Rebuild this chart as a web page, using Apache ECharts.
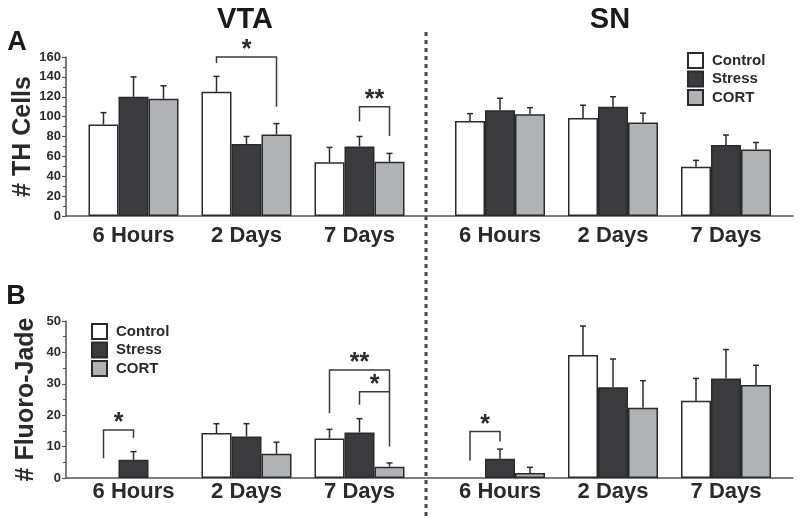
<!DOCTYPE html>
<html>
<head>
<meta charset="utf-8">
<script src="https://cdn.jsdelivr.net/npm/echarts@6/dist/echarts.min.js"></script>
<style>
  html, body { margin: 0; padding: 0; background: #fff; }
  #chart { width: 800px; height: 518px; }
</style>
</head>
<body>
<div id="chart"></div>
<script>
var categories = ['6 Hours', '2 Days', '7 Days'];
var groupNames = ['Control', 'Stress', 'CORT'];

// A: # TH cells (mean, error)
var thVtaControl = [92, 125, 54],     thVtaControlErr = [12, 15.5, 15];
var thVtaStress  = [120, 72.5, 70],   thVtaStressErr  = [20, 7.5, 10];
var thVtaCort    = [118, 82, 54.5],   thVtaCortErr    = [13, 11, 8.5];
var thSnControl  = [95.5, 98.5, 49.5], thSnControlErr = [7.5, 13, 6.5];
var thSnStress   = [106.5, 110, 71.5], thSnStressErr  = [12, 10, 10];
var thSnCort     = [102.5, 94, 67],   thSnCortErr     = [6.5, 9.5, 7];

// B: # Fluoro-Jade (mean, error), null = no bar
var fjVtaControl = [null, 14.3, 12.6], fjVtaControlErr = [0, 3, 2.9];
var fjVtaStress  = [5.8, 13.2, 14.5],  fjVtaStressErr  = [2.6, 4.1, 4.4];
var fjVtaCort    = [null, 7.7, 3.6],   fjVtaCortErr    = [0, 3.7, 1.2];
var fjSnControl  = [null, 39.2, 24.6], fjSnControlErr  = [0, 9.2, 7.1];
var fjSnStress   = [6.1, 28.9, 31.7],  fjSnStressErr   = [3.1, 9, 9.2];
var fjSnCort     = [1.6, 22.4, 29.6],  fjSnCortErr     = [1.8, 8.6, 6.3];

// significance brackets: [category, fromBar, toBar, top, leftEnd, rightEnd]
var thVtaBrackets = [[1, 0, 2, 160, 154, 110], [2, 1, 2, 110, 95, 80.5]];
var thVtaStars = ['*', '**'];
var fjVtaBrackets = [[0, 0, 1, 15.3, 6.3, 12.7], [2, 0, 2, 34.4, 20.6, 10], [2, 1, 2, 27.5, 23.3, 27.5]];
var fjVtaStars = ['*', '**', '*'];
var fjSnBrackets = [[0, 0, 1, 14.8, 5.5, 11.6]];
var fjSnStars = ['*'];

var yTicksA = { min: 0, max: 160, interval: 20 };
var yTicksB = { min: 0, max: 50, interval: 10 };

var BAR_W = 30;
var FONT = '"Liberation Sans", Arial, sans-serif';
var INK = '#2a2a2a';
var fills = ['#ffffff', '#3b3b3d', '#b1b2b4'];

var chart = echarts.init(document.getElementById('chart'), null, { renderer: 'canvas' });

function barSeries(values, k, axisIdx) {
  return {
    type: 'bar',
    name: groupNames[k],
    xAxisIndex: axisIdx,
    yAxisIndex: axisIdx,
    barWidth: BAR_W,
    barGap: '0%',
    data: values.map(function (v) { return v == null ? '-' : v; }),
    itemStyle: { color: fills[k], borderColor: INK, borderWidth: 1.5 },
    emphasis: { disabled: true },
    z: 3
  };
}

function errSeries(groups, axisIdx) {
  var items = [];
  groups.forEach(function (g, k) {
    g[0].forEach(function (v, j) {
      if (v != null) items.push([j, v, g[1][j], k]);
    });
  });
  return {
    type: 'custom',
    xAxisIndex: axisIdx,
    yAxisIndex: axisIdx,
    data: items,
    z: 2,
    silent: true,
    renderItem: function (params, api) {
      var base = api.coord([api.value(0), api.value(1)]);
      var top = api.coord([api.value(0), api.value(1) + api.value(2)]);
      var x = base[0] + (api.value(3) - 1) * BAR_W;
      var st = { stroke: INK, lineWidth: 1.5 };
      return {
        type: 'group',
        children: [
          { type: 'line', shape: { x1: x, y1: base[1], x2: x, y2: top[1] }, style: st },
          { type: 'line', shape: { x1: x - 3, y1: top[1], x2: x + 3, y2: top[1] }, style: st }
        ]
      };
    }
  };
}

function bracketSeries(brackets, stars, axisIdx) {
  return {
    type: 'custom',
    xAxisIndex: axisIdx,
    yAxisIndex: axisIdx,
    data: brackets,
    z: 4,
    silent: true,
    renderItem: function (params, api) {
      var c = api.value(0);
      var top = api.coord([c, api.value(3)]);
      var l = api.coord([c, api.value(4)]);
      var r = api.coord([c, api.value(5)]);
      var x1 = top[0] + (api.value(1) - 1) * BAR_W;
      var x2 = top[0] + (api.value(2) - 1) * BAR_W;
      return {
        type: 'group',
        children: [
          {
            type: 'polyline',
            shape: { points: [[x1, l[1]], [x1, top[1]], [x2, top[1]], [x2, r[1]]] },
            style: { stroke: '#3a3a3a', lineWidth: 1.5, fill: null }
          },
          {
            type: 'text',
            style: {
              text: stars[params.dataIndex],
              x: (x1 + x2) / 2, y: top[1] + 6,
              align: 'center', verticalAlign: 'bottom',
              font: 'bold 25px ' + FONT, fill: INK
            }
          }
        ]
      };
    }
  };
}

var panelTop = [57, 321];
var panelH = [159, 157];
var halfLeft = [77, 443.5];
var HALF_W = 339;

var grids = [], xAxes = [], yAxes = [];
[0, 1].forEach(function (row) {
  [0, 1].forEach(function (col) {
    grids.push({ left: halfLeft[col], width: HALF_W, top: panelTop[row], height: panelH[row] });
    xAxes.push({
      type: 'category', gridIndex: grids.length - 1, data: categories,
      axisLine: { show: false }, axisTick: { show: false },
      axisLabel: { fontFamily: FONT, fontWeight: 'bold', fontSize: 22, color: INK, margin: row === 0 ? 9 : 3 }
    });
    var t = row === 0 ? yTicksA : yTicksB;
    yAxes.push({
      type: 'value', gridIndex: grids.length - 1, min: t.min, max: t.max, interval: t.interval,
      show: col === 0, offset: 11,
      name: row === 0 ? '# TH Cells' : '# Fluoro-Jade',
      nameLocation: 'middle', nameRotate: 90, nameGap: 27,
      nameTextStyle: { fontFamily: FONT, fontWeight: 'bold', fontSize: 25, color: INK },
      axisLine: { show: true, lineStyle: { color: '#555', width: 1.5 } },
      axisTick: { show: true, length: 4, lineStyle: { color: '#555', width: 1.2 } },
      minorTick: { show: true, splitNumber: 2, length: 3, lineStyle: { color: '#555', width: 1 } },
      splitLine: { show: false },
      axisLabel: { fontFamily: FONT, fontWeight: 'bold', fontSize: 13, color: INK, margin: 5 }
    });
  });
});
// full-width baselines for the two rows
[0, 1].forEach(function (row) {
  grids.push({ left: 66, right: 7, top: panelTop[row], height: panelH[row] });
  xAxes.push({
    type: 'value', gridIndex: grids.length - 1, min: 0, max: 1,
    axisLine: { show: true, onZero: false, lineStyle: { color: '#555', width: 1.5 } },
    axisTick: { show: false }, axisLabel: { show: false }, splitLine: { show: false }
  });
  yAxes.push({ type: 'value', gridIndex: grids.length - 1, show: false, min: 0, max: 1 });
});

var panels = [
  [[thVtaControl, thVtaControlErr], [thVtaStress, thVtaStressErr], [thVtaCort, thVtaCortErr]],
  [[thSnControl, thSnControlErr], [thSnStress, thSnStressErr], [thSnCort, thSnCortErr]],
  [[fjVtaControl, fjVtaControlErr], [fjVtaStress, fjVtaStressErr], [fjVtaCort, fjVtaCortErr]],
  [[fjSnControl, fjSnControlErr], [fjSnStress, fjSnStressErr], [fjSnCort, fjSnCortErr]]
];

var series = [];
panels.forEach(function (groups, p) {
  groups.forEach(function (g, k) { series.push(barSeries(g[0], k, p)); });
  series.push(errSeries(groups, p));
});
series.push(bracketSeries(thVtaBrackets, thVtaStars, 0));
series.push(bracketSeries(fjVtaBrackets, fjVtaStars, 2));
series.push(bracketSeries(fjSnBrackets, fjSnStars, 3));

var legendBase = {
  orient: 'vertical', icon: 'rect', itemWidth: 15, itemHeight: 15, itemGap: 1.5, padding: 0,
  data: groupNames, selectedMode: false,
  textStyle: { fontFamily: FONT, fontWeight: 'bold', fontSize: 15, lineHeight: 15, color: INK, padding: [0, 0, 0, 4] }
};

function label(text, x, y, size) {
  return {
    type: 'text', x: x, y: y,
    style: { text: text, font: 'bold ' + size + 'px ' + FONT, fill: '#1a1a1a', align: 'center', verticalAlign: 'middle' }
  };
}

chart.setOption({
  animation: false,
  backgroundColor: '#fff',
  grid: grids,
  xAxis: xAxes,
  yAxis: yAxes,
  legend: [
    Object.assign({ left: 687, top: 52 }, legendBase),
    Object.assign({ left: 91, top: 323 }, legendBase)
  ],
  graphic: [
    label('VTA', 245, 20, 29),
    label('SN', 610, 20, 29),
    label('A', 17, 43, 27),
    label('B', 16, 297, 27),
    {
      type: 'line', shape: { x1: 426, y1: 32, x2: 426, y2: 518 },
      style: { stroke: '#444', lineWidth: 3, lineDash: [4, 4] }
    }
  ],
  series: series
});
</script>
</body>
</html>
